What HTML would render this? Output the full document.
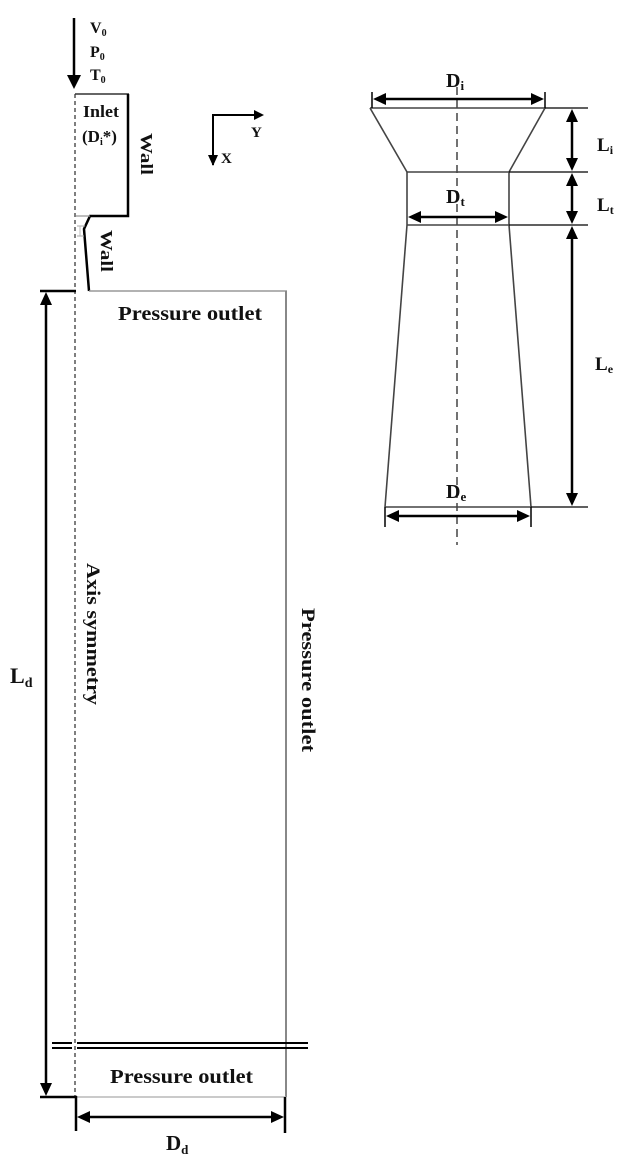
<!DOCTYPE html>
<html>
<head>
<meta charset="utf-8">
<style>
  html,body{margin:0;padding:0;background:#fff;}
  svg{display:block;}
  text{font-family:"Liberation Serif",serif;font-weight:bold;fill:#111;}
</style>
</head>
<body>
<svg width="627" height="1169" viewBox="0 0 627 1169" xmlns="http://www.w3.org/2000/svg">
  <rect width="627" height="1169" fill="#fff"/>

  <!-- ===== LEFT DIAGRAM ===== -->
  <!-- inlet arrow -->
  <line x1="74" y1="18" x2="74" y2="78" stroke="#000" stroke-width="2.5"/>
  <polygon points="67,75 81,75 74,89" fill="#000"/>
  <text x="90" y="33" font-size="16">V<tspan font-size="10" dy="3">0</tspan></text>
  <text x="90" y="57" font-size="16">P<tspan font-size="10" dy="3">0</tspan></text>
  <text x="90" y="80" font-size="16">T<tspan font-size="10" dy="3">0</tspan></text>

  <!-- axis dashed -->
  <line x1="75" y1="94" x2="75" y2="1097" stroke="#555" stroke-width="1.5" stroke-dasharray="4,3"/>

  <!-- inlet block -->
  <line x1="75" y1="94" x2="129" y2="94" stroke="#333" stroke-width="1.5"/>
  <polyline points="128,94 128,216 90,216 84,229 89,291" fill="none" stroke="#000" stroke-width="2.5" stroke-linejoin="miter"/>
  <line x1="76" y1="216" x2="90" y2="216" stroke="#999" stroke-width="1.3"/>
  <line x1="77" y1="226" x2="85" y2="226" stroke="#aaa" stroke-width="1"/>
  <line x1="77" y1="236" x2="84" y2="236" stroke="#aaa" stroke-width="1"/>
  <line x1="80" y1="226" x2="80" y2="236" stroke="#bbb" stroke-width="1"/>

  <text x="83" y="117" font-size="17" textLength="36" lengthAdjust="spacingAndGlyphs">Inlet</text>
  <text x="82" y="142" font-size="17">(D<tspan font-size="10" dy="3">i</tspan><tspan dy="-3">*)</tspan></text>

  <text transform="translate(141,133) rotate(90)" font-size="17" textLength="42" lengthAdjust="spacingAndGlyphs">Wall</text>
  <text transform="translate(101,230) rotate(90)" font-size="17" textLength="42" lengthAdjust="spacingAndGlyphs">Wall</text>

  <!-- coordinate axes -->
  <polyline points="213,165 213,115 256,115" fill="none" stroke="#000" stroke-width="2"/>
  <polygon points="254,110 264,115 254,120" fill="#000"/>
  <polygon points="208,155 218,155 213,166" fill="#000"/>
  <text x="251" y="137" font-size="15">Y</text>
  <text x="221" y="163" font-size="15">X</text>

  <!-- left horizontal black line at top of domain -->
  <line x1="40" y1="291" x2="76" y2="291" stroke="#000" stroke-width="2.5"/>

  <!-- domain -->
  <line x1="89" y1="291" x2="287" y2="291" stroke="#999" stroke-width="1.5"/>
  <line x1="286" y1="291" x2="286" y2="1097" stroke="#888" stroke-width="2"/>
  <line x1="76" y1="1097" x2="286" y2="1097" stroke="#aaa" stroke-width="1.3"/>

  <text x="118" y="320" font-size="20" textLength="144" lengthAdjust="spacingAndGlyphs">Pressure outlet</text>
  <text transform="translate(87,563) rotate(90)" font-size="19" textLength="142" lengthAdjust="spacingAndGlyphs">Axis symmetry</text>
  <text transform="translate(302,608) rotate(90)" font-size="19" textLength="144" lengthAdjust="spacingAndGlyphs">Pressure outlet</text>

  <!-- break double lines -->
  <line x1="52" y1="1043" x2="72" y2="1043" stroke="#000" stroke-width="2"/>
  <line x1="52" y1="1048" x2="72" y2="1048" stroke="#000" stroke-width="2"/>
  <line x1="77" y1="1043" x2="308" y2="1043" stroke="#000" stroke-width="2"/>
  <line x1="77" y1="1048" x2="308" y2="1048" stroke="#000" stroke-width="2"/>

  <text x="110" y="1083" font-size="20" textLength="143" lengthAdjust="spacingAndGlyphs">Pressure outlet</text>

  <!-- bottom -->
  <line x1="40" y1="1097" x2="77" y2="1097" stroke="#000" stroke-width="2.5"/>
  <line x1="76" y1="1096" x2="76" y2="1131" stroke="#000" stroke-width="2.5"/>
  <line x1="285" y1="1097" x2="285" y2="1133" stroke="#000" stroke-width="2.5"/>

  <!-- Dd arrow -->
  <line x1="86" y1="1117" x2="276" y2="1117" stroke="#000" stroke-width="2.5"/>
  <polygon points="77,1117 90,1111 90,1123" fill="#000"/>
  <polygon points="284,1117 271,1111 271,1123" fill="#000"/>
  <text x="166" y="1150" font-size="21">D<tspan font-size="13" dy="4">d</tspan></text>

  <!-- Ld arrow -->
  <line x1="46" y1="300" x2="46" y2="1087" stroke="#000" stroke-width="2.5"/>
  <polygon points="46,292 40,305 52,305" fill="#000"/>
  <polygon points="46,1096 40,1083 52,1083" fill="#000"/>
  <text x="10" y="683" font-size="22">L<tspan font-size="14" dy="4">d</tspan></text>

  <!-- ===== RIGHT DIAGRAM ===== -->
  <line x1="457" y1="87" x2="457" y2="545" stroke="#444" stroke-width="1.5" stroke-dasharray="8,5"/>

  <g fill="none" stroke="#444" stroke-width="1.6">
    <line x1="370" y1="108" x2="545" y2="108"/>
    <line x1="370" y1="108" x2="407" y2="172"/>
    <line x1="545" y1="108" x2="509" y2="172"/>
    <line x1="407" y1="172" x2="509" y2="172"/>
    <line x1="407" y1="172" x2="407" y2="225"/>
    <line x1="509" y1="172" x2="509" y2="225"/>
    <line x1="407" y1="225" x2="509" y2="225"/>
    <line x1="407" y1="225" x2="385" y2="507"/>
    <line x1="509" y1="225" x2="531" y2="507"/>
    <line x1="385" y1="507" x2="531" y2="507"/>
  </g>
  <g stroke="#000" stroke-width="1.2">
    <line x1="545" y1="108" x2="588" y2="108"/>
    <line x1="509" y1="172" x2="588" y2="172"/>
    <line x1="509" y1="225" x2="588" y2="225"/>
    <line x1="531" y1="507" x2="588" y2="507"/>
  </g>

  <!-- Di -->
  <line x1="372" y1="92" x2="372" y2="108" stroke="#000" stroke-width="1.5"/>
  <line x1="545" y1="92" x2="545" y2="108" stroke="#000" stroke-width="1.5"/>
  <line x1="382" y1="99" x2="535" y2="99" stroke="#000" stroke-width="2.5"/>
  <polygon points="373,99 386,93 386,105" fill="#000"/>
  <polygon points="544,99 531,93 531,105" fill="#000"/>
  <text x="446" y="87" font-size="20">D<tspan font-size="13" dy="3">i</tspan></text>

  <!-- Dt -->
  <line x1="416" y1="217" x2="500" y2="217" stroke="#000" stroke-width="2.5"/>
  <polygon points="408,217 421,211 421,223" fill="#000"/>
  <polygon points="508,217 495,211 495,223" fill="#000"/>
  <text x="446" y="203" font-size="20">D<tspan font-size="13" dy="3">t</tspan></text>

  <!-- De -->
  <line x1="385" y1="507" x2="385" y2="527" stroke="#000" stroke-width="1.5"/>
  <line x1="531" y1="507" x2="531" y2="527" stroke="#000" stroke-width="1.5"/>
  <line x1="394" y1="516" x2="522" y2="516" stroke="#000" stroke-width="2.5"/>
  <polygon points="386,516 399,510 399,522" fill="#000"/>
  <polygon points="530,516 517,510 517,522" fill="#000"/>
  <text x="446" y="498" font-size="20">D<tspan font-size="13" dy="3">e</tspan></text>

  <!-- Li, Lt, Le -->
  <line x1="572" y1="118" x2="572" y2="162" stroke="#000" stroke-width="2.5"/>
  <polygon points="572,109 566,122 578,122" fill="#000"/>
  <polygon points="572,171 566,158 578,158" fill="#000"/>
  <line x1="572" y1="182" x2="572" y2="215" stroke="#000" stroke-width="2.5"/>
  <polygon points="572,173 566,186 578,186" fill="#000"/>
  <polygon points="572,224 566,211 578,211" fill="#000"/>
  <line x1="572" y1="235" x2="572" y2="497" stroke="#000" stroke-width="2.5"/>
  <polygon points="572,226 566,239 578,239" fill="#000"/>
  <polygon points="572,506 566,493 578,493" fill="#000"/>

  <text x="597" y="151" font-size="19">L<tspan font-size="12" dy="3">i</tspan></text>
  <text x="597" y="211" font-size="19">L<tspan font-size="12" dy="3">t</tspan></text>
  <text x="595" y="370" font-size="19">L<tspan font-size="12" dy="3">e</tspan></text>
</svg>
</body>
</html>
